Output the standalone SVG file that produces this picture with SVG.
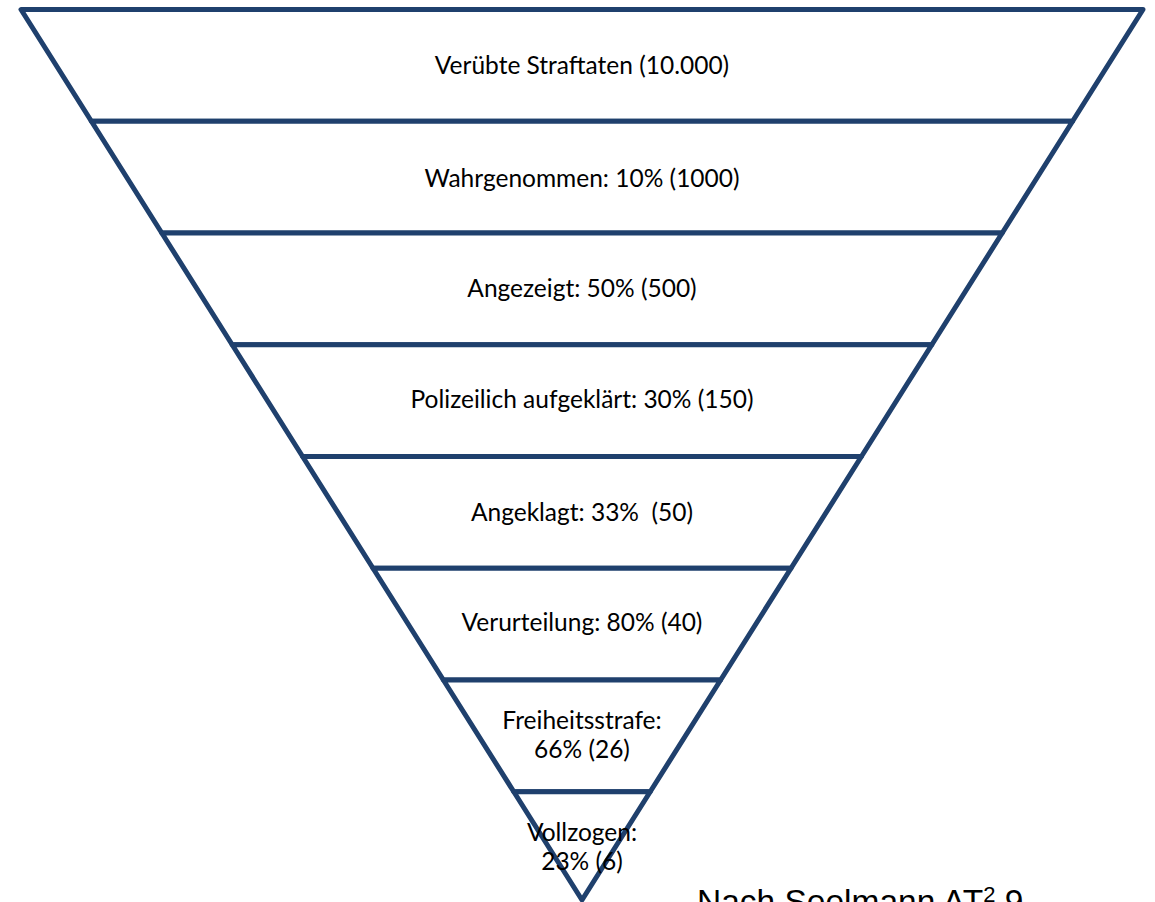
<svg xmlns="http://www.w3.org/2000/svg" width="1155" height="902" viewBox="0 0 1155 902">
<style>
.band{fill:#ffffff;stroke:#1f406d;stroke-width:5;stroke-linejoin:round}
.lbl{font-family:Lato,"Open Sans","Liberation Sans",sans-serif;font-size:24.5px;fill:#000000;text-anchor:middle}
.src{font-family:"Liberation Sans",Arial,sans-serif;font-size:33.5px;fill:#000000}
</style>
<rect x="0" y="0" width="1155" height="902" fill="#ffffff"/>
<g id="band1"><polygon class="band" points="21,9.5 1143,9.5 1072.6,121.25 91.4,121.25"/><text class="lbl" x="582" y="74">Verübte Straftaten (10.000)</text></g>
<g id="band2"><polygon class="band" points="91.4,121.25 1072.6,121.25 1002.2,233 161.8,233"/><text class="lbl" x="582" y="187">Wahrgenommen: 10% (1000)</text></g>
<g id="band3"><polygon class="band" points="161.8,233 1002.2,233 931.8,344.75 232.2,344.75"/><text class="lbl" x="582" y="296.5">Angezeigt: 50% (500)</text></g>
<g id="band4"><polygon class="band" points="232.2,344.75 931.8,344.75 861.4,456.5 302.6,456.5"/><text class="lbl" x="582" y="408">Polizeilich aufgeklärt: 30% (150)</text></g>
<g id="band5"><polygon class="band" points="302.6,456.5 861.4,456.5 791,568.25 373,568.25"/><text class="lbl" x="582" y="520.5" xml:space="preserve">Angeklagt: 33%  (50)</text></g>
<g id="band6"><polygon class="band" points="373,568.25 791,568.25 720.6,680 443.4,680"/><text class="lbl" x="582" y="631">Verurteilung: 80% (40)</text></g>
<g id="band7"><polygon class="band" points="443.4,680 720.6,680 650.2,791.75 513.8,791.75"/><text class="lbl" x="582" y="729">Freiheitsstrafe:</text><text class="lbl" x="582" y="757.5">66% (26)</text></g>
<g id="band8"><polygon class="band" points="513.8,791.75 650.2,791.75 582,900"/><text class="lbl" x="582" y="840.5">Vollzogen:</text><text class="lbl" x="582" y="870">23% (6)</text></g>
<g id="source"><text class="src" x="697" y="913">Nach Seelmann AT<tspan font-size="22" dy="-11.5">2</tspan><tspan dy="11.5"> 9</tspan></text></g>
</svg>
